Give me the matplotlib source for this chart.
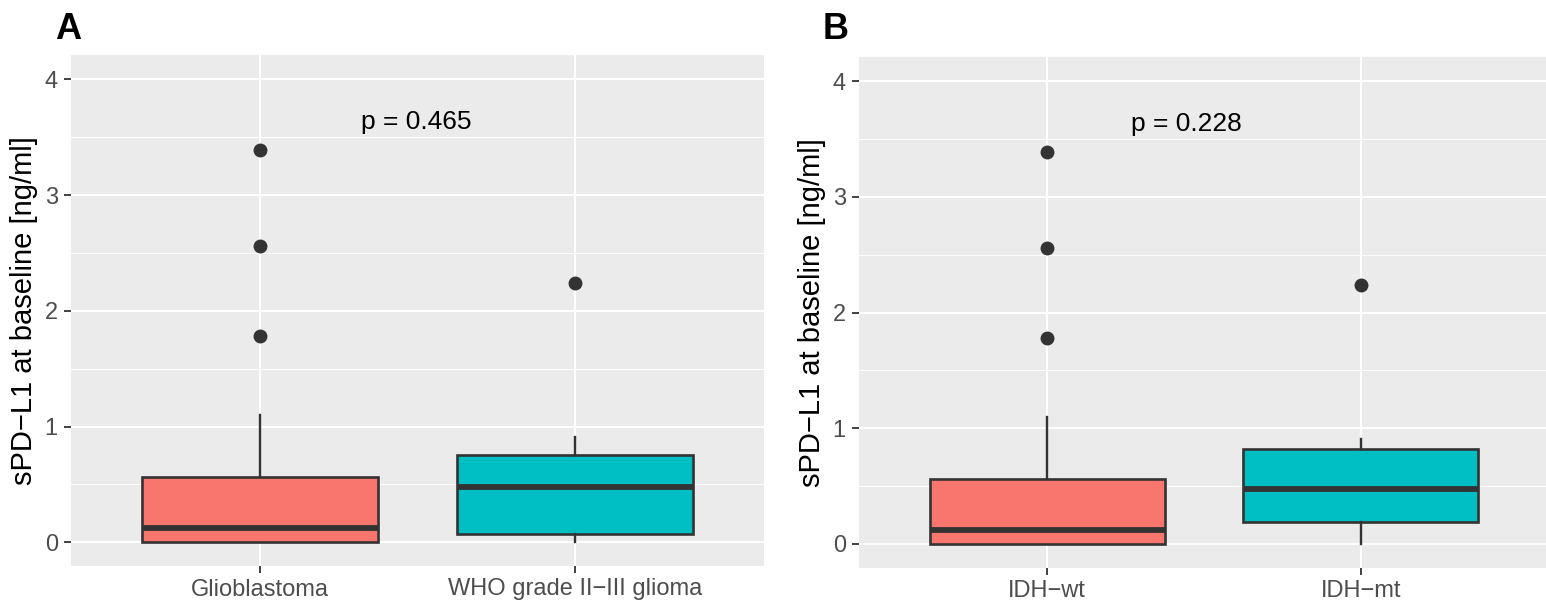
import numpy as np
import matplotlib
matplotlib.use("Agg")
import matplotlib.pyplot as plt
from matplotlib.ticker import MultipleLocator

plt.rcParams['font.family'] = ['Liberation Sans', 'DejaVu Sans']

# data
groups_a = ["Glioblastoma", "WHO grade II\u2212III glioma"]
q1_a = [0.0, 0.07]
med_a = [0.12, 0.48]
q3_a = [0.56, 0.75]
lo_a = [0.0, 0.0]
hi_a = [1.10, 0.91]
fliers_a = [[1.78, 2.56, 3.39], [2.24]]
p_a = "p = 0.465"

groups_b = ["IDH\u2212wt", "IDH\u2212mt"]
q1_b = [0.0, 0.19]
med_b = [0.12, 0.47]
q3_b = [0.56, 0.82]
lo_b = [0.0, 0.0]
hi_b = [1.10, 0.91]
fliers_b = [[1.78, 2.56, 3.39], [2.24]]
p_b = "p = 0.228"

fill_colors = ["#F8766D", "#00BFC4"]
edge = "#333333"

W, H = 1546, 606
fig = plt.figure(figsize=(W / 100, H / 100), dpi=100)


def make_panel(rect, letter, letter_x, groups, q1, med, q3, lo, hi, fliers, ptext, px):
    ax = fig.add_axes(rect)
    ax.set_facecolor("#EBEBEB")
    stats = []
    for i in range(len(groups)):
        stats.append(dict(med=med[i], q1=q1[i], q3=q3[i], whislo=lo[i],
                          whishi=hi[i], fliers=fliers[i]))
    bp = ax.bxp(stats, positions=[1, 2], widths=0.75, patch_artist=True,
                showcaps=False,
                boxprops=dict(edgecolor=edge, linewidth=1.9),
                medianprops=dict(color=edge, linewidth=4.2, solid_capstyle='butt'),
                whiskerprops=dict(color=edge, linewidth=1.7),
                flierprops=dict(marker='o', markerfacecolor=edge, markeredgecolor=edge,
                                markersize=9))
    for patch, c in zip(bp['boxes'], fill_colors):
        patch.set_facecolor(c)

    ax.set_xlim(0.4, 2.6)
    ax.set_ylim(-0.205, 4.21)
    ax.yaxis.set_major_locator(MultipleLocator(1))
    ax.yaxis.set_minor_locator(MultipleLocator(0.5))
    ax.set_xticks([1, 2])
    ax.set_xticklabels(groups)
    ax.set_axisbelow(True)
    ax.grid(which='major', color='white', linewidth=1.5)
    ax.grid(which='minor', axis='y', color='white', linewidth=0.75)
    for s in ax.spines.values():
        s.set_visible(False)
    ax.tick_params(which='major', length=5, width=1.3, color=edge,
                   labelsize=17, labelcolor="#4D4D4D")
    ax.tick_params(axis='x', pad=4)
    ax.tick_params(axis='y', pad=4.5)
    ax.tick_params(which='minor', length=0)

    ax.set_ylabel("sPD\u2212L1 at baseline [ng/ml]", fontsize=21, color='black')
    ax.yaxis.set_label_coords(-0.048, 0.5)

    ax.text(px, 3.63, ptext, fontsize=19, ha='center', va='center', color='black')
    fig.text(letter_x / W, 1 - 39 / H, letter, fontsize=26, fontweight='bold',
             va='baseline', ha='left')
    return ax


make_panel([71 / W, 1 - 566 / H, 693 / W, 511 / H], "A", 55,
           groups_a, q1_a, med_a, q3_a, lo_a, hi_a, fliers_a, p_a, 1.495)
make_panel([859 / W, 1 - 567.5 / H, 690 / W, 510.5 / H], "B", 823,
           groups_b, q1_b, med_b, q3_b, lo_b, hi_b, fliers_b, p_b, 1.445)

fig.savefig("out.png", dpi=100)
